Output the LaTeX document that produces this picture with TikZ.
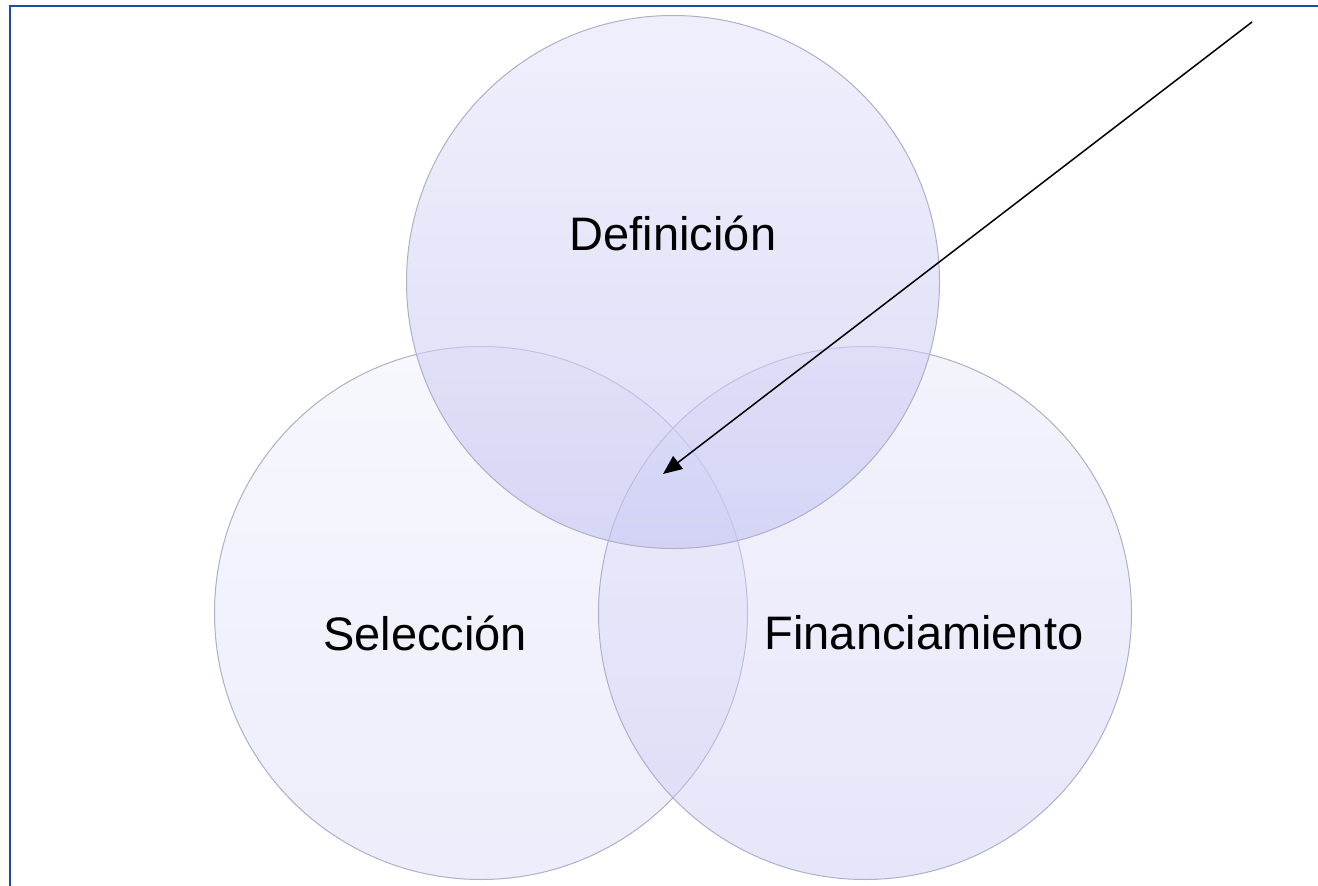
\documentclass[tikz,border=0pt]{standalone}
\usepackage{fontspec}
\setmainfont{Liberation Sans}
\usetikzlibrary{arrows.meta}
\definecolor{framecol}{RGB}{30,75,170}
\definecolor{edgecol}{RGB}{175,175,200}
\definecolor{lavtop}{RGB}{228,228,250}
\definecolor{lavbot}{RGB}{195,195,242}
\begin{document}
\begin{tikzpicture}[x=1pt,y=-1pt,
  circ/.style={circle, draw=edgecol, line width=1pt, minimum size=533pt, inner sep=0pt,
    top color=lavtop, bottom color=lavbot, fill opacity=0.42, draw opacity=1},
  circleft/.style={circ, fill opacity=0.3},
  circtop/.style={circ, fill opacity=0.58},
  lbl/.style={font=\fontsize{47}{56}\selectfont, text=black, inner sep=0pt},
  pointer/.style={line width=1.5pt, -{Triangle[length=19pt,width=16pt]}}
]
\useasboundingbox (0,0) rectangle (1318,886);
\draw[framecol, line width=2.6pt] (10,6) rectangle (1340,910);
\node[circleft] (sel) at (481,613) {};
\node[circ] (fin) at (865,613) {};
\node[circtop] (def) at (673,282) {};
\node[lbl] (tdef) at (673,233) {Definición};
\node[lbl] (tsel) at (425,633) {Selección};
\node[lbl] (tfin) at (924,633) {Financiamiento};
\coordinate (start) at (1252,22);
\coordinate (tip) at (663,474);
\draw[pointer] (start) -- (tip);
\end{tikzpicture}
\end{document}
